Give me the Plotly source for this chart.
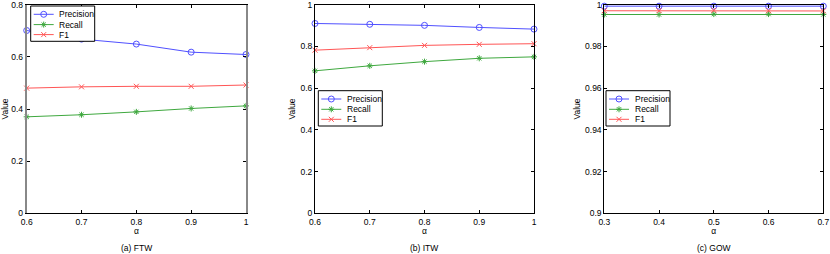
import plotly.graph_objects as go

# ---- data ----
alpha_ab = [0.6, 0.7, 0.8, 0.9, 1.0]
alpha_c = [0.3, 0.4, 0.5, 0.6, 0.7]

prec_a = [0.701, 0.668, 0.649, 0.618, 0.609]
rec_a = [0.370, 0.378, 0.389, 0.402, 0.412]
f1_a = [0.480, 0.485, 0.487, 0.487, 0.492]

prec_b = [0.910, 0.906, 0.901, 0.891, 0.883]
rec_b = [0.683, 0.707, 0.727, 0.743, 0.750]
f1_b = [0.782, 0.794, 0.805, 0.810, 0.813]

prec_c = [0.9993, 0.9993, 0.9993, 0.9993, 0.9993]
rec_c = [0.9953, 0.9953, 0.9955, 0.9955, 0.9953]
f1_c = [0.9971, 0.9971, 0.9973, 0.9971, 0.9970]

xticks_ab = [0.6, 0.7, 0.8, 0.9, 1.0]
xticktext_ab = ["0.6", "0.7", "0.8", "0.9", "1"]
xticks_c = [0.3, 0.4, 0.5, 0.6, 0.7]
xticktext_c = ["0.3", "0.4", "0.5", "0.6", "0.7"]
yticks_a = [0, 0.2, 0.4, 0.6, 0.8]
yticktext_a = ["0", "0.2", "0.4", "0.6", "0.8"]
yticks_b = [0, 0.2, 0.4, 0.6, 0.8, 1.0]
yticktext_b = ["0", "0.2", "0.4", "0.6", "0.8", "1"]
yticks_c = [0.9, 0.92, 0.94, 0.96, 0.98, 1.0]
yticktext_c = ["0.9", "0.92", "0.94", "0.96", "0.98", "1"]

series_names = ["Precision", "Recall", "F1"]
captions = ["(a) FTW", "(b) ITW", "(c) GOW"]

# ---- style ----
FONT = "Liberation Sans, Arial, sans-serif"
FS = 8.5
colors = ["#5050ff", "#3fa83f", "#ff5555"]
symbols = ["circle-open", "asterisk-open", "x-thin-open"]
msizes = [6, 5, 5]

W, H = 830, 254
top_px, bot_px = 4.7, 213.3
panels_x = [(26.7, 246.0), (315.0, 534.0), (604.3, 823.3)]
ydom = [1 - bot_px / H, 1 - top_px / H]

fig = go.Figure()

datasets = [
    (alpha_ab, [prec_a, rec_a, f1_a]),
    (alpha_ab, [prec_b, rec_b, f1_b]),
    (alpha_c, [prec_c, rec_c, f1_c]),
]

for i, (xs, ys_list) in enumerate(datasets):
    ax = "" if i == 0 else str(i + 1)
    for j, ys in enumerate(ys_list):
        fig.add_trace(go.Scatter(
            x=xs, y=ys, mode="lines+markers", name=series_names[j],
            line=dict(color=colors[j], width=1),
            marker=dict(symbol=symbols[j], size=msizes[j], color=colors[j],
                        line=dict(width=1, color=colors[j])),
            xaxis="x" + ax, yaxis="y" + ax,
            showlegend=False, cliponaxis=False,
        ))

# ---- MATLAB-style compact legends, drawn on a pixel overlay axis ----
legend_boxes = [(30.7, 6.0), (318.3, 90.7), (606.0, 90.7)]  # top-left px
BOX_W, BOX_H = 64.0, 35.3
ITEM_DY = [8.3, 18.6, 28.6]
annotations = []
for (bx, by) in legend_boxes:
    fig.add_trace(go.Scatter(
        x=[bx, bx + BOX_W, bx + BOX_W, bx, bx],
        y=[by, by, by + BOX_H, by + BOX_H, by],
        mode="lines", fill="toself", fillcolor="white",
        line=dict(color="black", width=1),
        xaxis="x4", yaxis="y4", showlegend=False, hoverinfo="skip",
    ))
    for j, name in enumerate(series_names):
        iy = by + ITEM_DY[j]
        fig.add_trace(go.Scatter(
            x=[bx + 3, bx + 23], y=[iy, iy], mode="lines",
            line=dict(color=colors[j], width=1),
            xaxis="x4", yaxis="y4", showlegend=False, hoverinfo="skip",
        ))
        fig.add_trace(go.Scatter(
            x=[bx + 13], y=[iy], mode="markers",
            marker=dict(symbol=symbols[j], size=msizes[j], color=colors[j],
                        line=dict(width=1, color=colors[j])),
            xaxis="x4", yaxis="y4", showlegend=False, hoverinfo="skip",
        ))
        annotations.append(dict(
            text=name, x=(bx + 26.5) / W, y=1 - iy / H,
            xref="paper", yref="paper", showarrow=False,
            xanchor="left", yanchor="middle", font=dict(size=FS),
        ))

xranges = [[0.6, 1.0], [0.6, 1.0], [0.3, 0.7]]
yranges = [[0, 0.8], [0, 1.0], [0.9, 1.0]]
xt = [(xticks_ab, xticktext_ab), (xticks_ab, xticktext_ab), (xticks_c, xticktext_c)]
yt = [(yticks_a, yticktext_a), (yticks_b, yticktext_b), (yticks_c, yticktext_c)]

layout = dict(
    width=W, height=H,
    margin=dict(l=0, r=0, t=0, b=0, autoexpand=False),
    paper_bgcolor="white", plot_bgcolor="rgba(0,0,0,0)",
    font=dict(family=FONT, size=FS, color="black"),
    showlegend=False,
)

for i in range(3):
    ax = "" if i == 0 else str(i + 1)
    x0, x1 = panels_x[i]
    ycol = "#888888" if i == 0 else "black"
    ywid = 2 if i == 0 else 1
    layout["xaxis" + ax] = dict(
        domain=[x0 / W, x1 / W], range=xranges[i], anchor="y" + ax,
        tickvals=xt[i][0], ticktext=xt[i][1],
        ticks="inside", ticklen=3, tickcolor="black", mirror="ticks",
        showline=True, linecolor="black", linewidth=1,
        showgrid=False, zeroline=False, automargin=False,
        ticklabeloverflow="allow",
        title=dict(text="α", standoff=2, font=dict(size=FS)),
        tickfont=dict(size=FS),
    )
    layout["yaxis" + ax] = dict(
        domain=ydom, range=yranges[i], anchor="x" + ax,
        tickvals=yt[i][0], ticktext=yt[i][1],
        ticks="inside", ticklen=3, tickcolor="black", mirror="ticks",
        showline=True, linecolor=ycol, linewidth=ywid,
        showgrid=False, zeroline=False, automargin=False,
        ticklabeloverflow="allow",
        title=dict(text="Value", standoff=3, font=dict(size=FS)),
        tickfont=dict(size=FS),
    )

layout["xaxis4"] = dict(domain=[0, 1], range=[0, W], anchor="y4",
                        visible=False, fixedrange=True)
layout["yaxis4"] = dict(domain=[0, 1], range=[H, 0], anchor="x4",
                        visible=False, fixedrange=True)

for i in range(3):
    x0, x1 = panels_x[i]
    annotations.append(dict(
        text=captions[i], x=(x0 + x1) / 2 / W, y=1 - 247.7 / H,
        xref="paper", yref="paper", showarrow=False,
        xanchor="center", yanchor="middle", font=dict(size=FS),
    ))
layout["annotations"] = annotations

fig.update_layout(**layout)
fig.write_html(
    "out.html",
    config={"displayModeBar": False, "staticPlot": True},
    post_script="document.body.style.margin='0';document.body.style.overflow='hidden';",
)
